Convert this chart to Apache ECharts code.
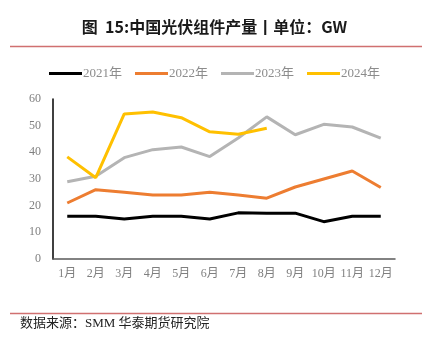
<!DOCTYPE html>
<html><head><meta charset="utf-8">
<script src="https://cdn.jsdelivr.net/npm/echarts@6/dist/echarts.min.js"></script>
<style>html,body{margin:0;padding:0;background:#fff}#c{width:429px;height:342px}</style>
</head><body><div id="c"></div>
<script>
var categories = ['1月','2月','3月','4月','5月','6月','7月','8月','9月','10月','11月','12月'];
var s2021 = [16,16,15,16,16,15,17.3,17.2,17.2,14,16,16];
var s2022 = [21,26,25,24,24,25,24,22.8,27,30,33,26.8];
var s2023 = [29,31,38,41,42,38.4,45.4,53.3,46.6,50.5,49.5,45.3];
var s2024 = [38.3,30.5,54.4,55.1,53,47.7,46.8,49];
var yTicks = [0,10,20,30,40,50,60];
var seriesNames = ['2021年','2022年','2023年','2024年'];
var colors = ['#000000','#ed7d31','#b4b4b4','#ffc000'];

var chart = echarts.init(document.getElementById('c'), null, {renderer:'canvas'});
var serif = "'Liberation Serif','Noto Sans CJK SC',serif";
var datas = [s2021,s2022,s2023,s2024];
chart.setOption({
  animation:false,
  backgroundColor:'#fff',
  title:{text:'图  15:中国光伏组件产量丨单位：GW',left:'center',top:14,
    textStyle:{fontFamily:"'Noto Sans CJK SC',sans-serif",fontSize:16,fontWeight:'bold',color:'#1a1a1a'}},
  graphic:[
    {type:'line',shape:{x1:10,y1:46.5,x2:422,y2:46.5},style:{stroke:'#d07070',lineWidth:1.5}},
    {type:'line',shape:{x1:10,y1:313.5,x2:422,y2:313.5},style:{stroke:'#d07070',lineWidth:1.5}},
    {type:'text',left:20,top:317,style:{text:'数据来源：SMM 华泰期货研究院',fontFamily:serif,fontSize:13,fill:'#222'}}
  ],
  legend:{top:62,left:'center',itemWidth:33,itemHeight:3,itemGap:13,icon:'rect',
    data:seriesNames,
    textStyle:{fontFamily:serif,fontSize:13,color:'#8c8c8c',padding:[0,0,0,-4]}},
  grid:{left:53,right:34,top:99,bottom:83},
  xAxis:{type:'category',data:categories,boundaryGap:true,
    axisLine:{lineStyle:{color:'#595959',width:1.5}},
    axisTick:{show:false},
    axisLabel:{fontFamily:serif,fontSize:12,color:'#7f7f7f',margin:9,interval:0}},
  yAxis:{type:'value',min:0,max:60,interval:10,
    axisLine:{show:true,lineStyle:{color:'#000',width:1.5}},
    axisTick:{show:false},splitLine:{show:false},
    axisLabel:{fontFamily:serif,fontSize:12,color:'#7f7f7f',margin:12,
      formatter:function(v){return yTicks.indexOf(v)>=0?String(v):'';}}},
  series:seriesNames.map(function(n,i){return {name:n,type:'line',data:datas[i],
    symbol:'none',lineStyle:{color:colors[i],width:3},itemStyle:{color:colors[i]},z:i===3?5:2};})
});
</script></body></html>
